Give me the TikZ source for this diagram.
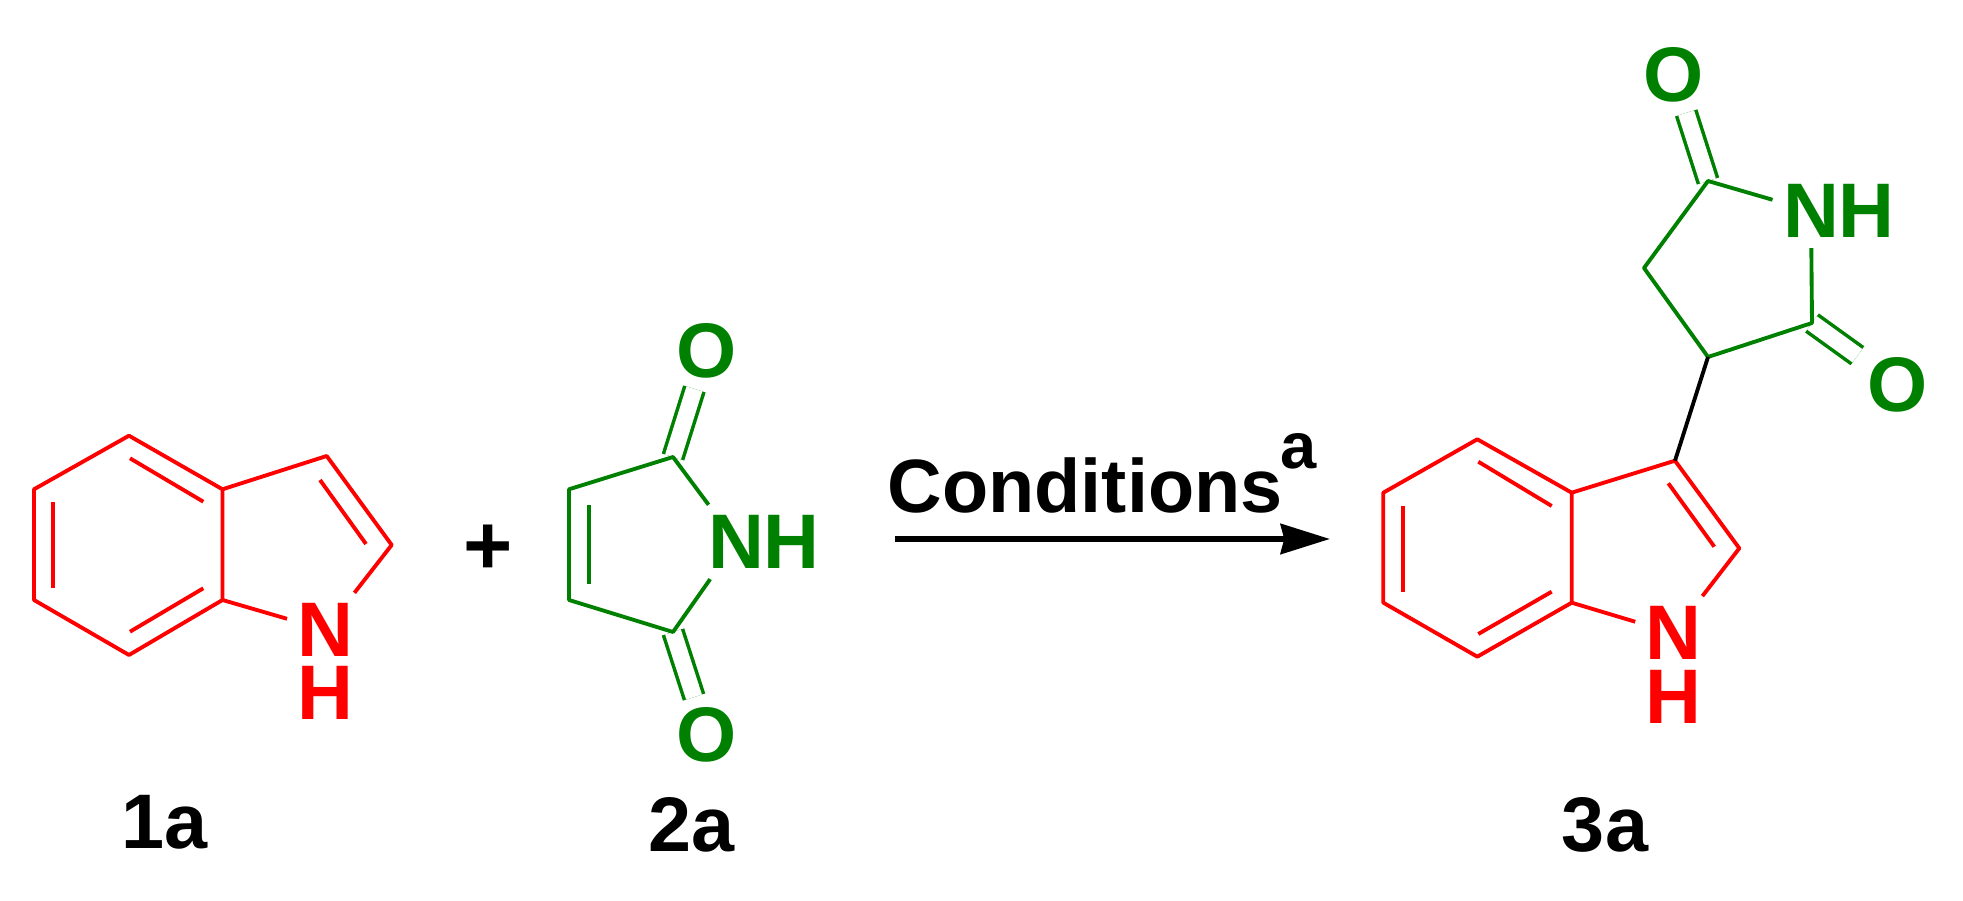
\documentclass[tikz,border=0pt]{standalone}
\usepackage{fontspec}
\setmainfont{Liberation Sans}
\usepackage{tikz}
\usetikzlibrary{arrows.meta}
\definecolor{chemgreen}{RGB}{0,128,0}
\tikzset{redbond/.style = {draw=red, line width = 1.1pt, line join = round}}
\tikzset{greenbond/.style = {draw=chemgreen, line width = 1.1pt, line join = round}}
\tikzset{oxobond/.style = {draw=chemgreen, double = white, double distance = 4.7pt, line width = 1pt}}
\tikzset{atom/.style = {font=\fontsize{22}{22}\bfseries\selectfont, inner sep = 0, outer sep = 3pt}}
\tikzset{redatom/.style = {atom, text=red}}
\tikzset{greenatom/.style = {atom, text=chemgreen}}
\tikzset{cmpd/.style = {font=\fontsize{22}{22}\bfseries\selectfont, inner sep = 0}}
\begin{document}
\begin{tikzpicture}[x=0.01cm, y=-0.01cm]
    \useasboundingbox (0, 0) rectangle (1963, 901);
    % indole of 1a
    \coordinate (a1) at (129, 435.7);
    \coordinate (a2) at (222.5, 489.3);
    \coordinate (a3) at (222.5, 600);
    \coordinate (a4) at (129, 655);
    \coordinate (a5) at (34, 600);
    \coordinate (a6) at (34, 489.3);
    \coordinate (a7) at (326.7, 456);
    \coordinate (a8) at (391.7, 545);
    \node [redatom] (an) at (325.5, 630) {N};
    \node [redatom] (ah) at (325.5, 693.3) {H};
    \draw [redbond] (a1) -- (a2) -- (a3) -- (a4) -- (a5) -- (a6) -- cycle;
    \draw [redbond] (a2) -- (a7) -- (a8) -- (an) -- (a3);
    \draw [redbond] (130, 458.3) -- (203.3, 501.7);
    \draw [redbond] (53.3, 502.3) -- (53.3, 587.7);
    \draw [redbond] (130, 631.7) -- (203.3, 588.3);
    \draw [redbond] (320, 480) -- (366, 544);
    \node [cmpd] (plus) at (488, 550) {\fontsize{24}{24}\selectfont +};
    % maleimide 2a
    \coordinate (b1) at (569, 489.3);
    \coordinate (b2) at (569, 600);
    \coordinate (b3) at (673, 457);
    \coordinate (b4) at (673, 632);
    \node [greenatom] (bn) at (736.3, 542) {N};
    \node [greenatom] (bh) at (791.3, 542) {H};
    \node [greenatom] (bo1) at (706.3, 351) {O};
    \node [greenatom] (bo2) at (706.3, 735) {O};
    \draw [oxobond] (b3) -- (bo1);
    \draw [oxobond] (b4) -- (bo2);
    \draw [greenbond] (bn) -- (b3) -- (b1) -- (b2) -- (b4) -- (bn);
    \draw [greenbond] (589.3, 505) -- (589.3, 584);
    % arrow
    \coordinate (start) at (895, 539);
    \coordinate (end) at (1330, 539);
    \draw [line width = 1.8pt, -{Stealth[length=14pt, width=8.5pt, inset=1pt]}] (start) -- (end);
    \node [font=\fontsize{21.5}{21.5}\bfseries\selectfont, inner sep = 0, anchor = base] (cond) at (1085, 513) {Conditions};
    \node [font=\fontsize{18.5}{18.5}\bfseries\selectfont, inner sep = 0, anchor = base] (sup) at (1299, 469) {a};
    % indole of 3a
    \coordinate (c1) at (1477.3, 439.3);
    \coordinate (c2) at (1571.7, 492.7);
    \coordinate (c3) at (1571.7, 602.7);
    \coordinate (c4) at (1477.3, 656.7);
    \coordinate (c5) at (1383.3, 602.7);
    \coordinate (c6) at (1383.3, 492.7);
    \coordinate (c7) at (1675, 460.7);
    \coordinate (c8) at (1739.3, 548.3);
    \node [redatom] (cn) at (1673.7, 633.3) {N};
    \node [redatom] (ch) at (1673.7, 696.7) {H};
    \draw [redbond] (c1) -- (c2) -- (c3) -- (c4) -- (c5) -- (c6) -- cycle;
    \draw [redbond] (c2) -- (c7) -- (c8) -- (cn) -- (c3);
    \draw [redbond] (1478.3, 461.7) -- (1551.7, 506);
    \draw [redbond] (1403.3, 506) -- (1403.3, 591.7);
    \draw [redbond] (1478.3, 634) -- (1551.7, 591.7);
    \draw [redbond] (1668.3, 483.3) -- (1714.3, 546.7);
    % succinimide of 3a
    \coordinate (d1) at (1708, 357);
    \coordinate (d2) at (1644, 268);
    \coordinate (d3) at (1708, 181);
    \coordinate (d4) at (1812, 323);
    \node [greenatom] (dn) at (1811, 211) {N};
    \node [greenatom] (dh) at (1866, 211) {H};
    \node [greenatom] (do1) at (1674, 75) {O};
    \node [greenatom] (do2) at (1898, 385) {O};
    \draw [oxobond] (d3) -- (do1);
    \draw [oxobond] (d4) -- (do2);
    \draw [greenbond] (dn) -- (d3) -- (d2) -- (d1) -- (d4) -- (dn);
    \draw [line width = 1.1pt] (d1) -- (c7);
    % labels
    \node [cmpd] (lab1) at (165, 822) {1a};
    \node [cmpd] (lab2) at (692, 825) {2a};
    \node [cmpd] (lab3) at (1605, 825) {3a};
  \end{tikzpicture}
\end{document}
